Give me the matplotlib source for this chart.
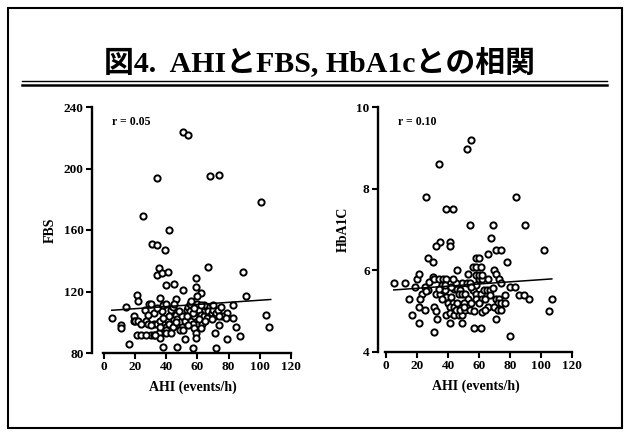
import matplotlib
matplotlib.use("Agg")
import matplotlib.pyplot as plt
from matplotlib.lines import Line2D
from matplotlib.patches import Rectangle

plt.rcParams['font.family'] = ['Liberation Serif', 'Noto Sans CJK JP']
plt.rcParams['font.weight'] = 'bold'

# AHI vs FBS
fbs_ahi = [51, 54, 34, 68, 74, 101, 25, 42, 31, 34, 39, 35, 34, 37, 41, 67, 89, 59, 40, 45,
           59, 51, 21, 22, 91, 36, 46, 62, 104, 106, 83, 5, 14, 11, 11, 16, 38, 47, 57, 72,
           79, 52, 87, 85, 74, 71, 83, 79,
           19, 19, 20, 22, 21, 24, 27, 28, 26, 29, 30, 32, 32, 30, 32, 34, 35, 36, 36, 37,
           38, 39, 40, 40, 41, 42, 40, 40, 43, 44, 45, 46, 47, 48, 49, 50, 49, 51, 50, 52,
           53, 54, 55, 56, 57, 58, 59, 59, 58, 60, 60, 61, 62, 63, 63, 64, 65, 66, 67, 68,
           69, 70, 71, 72, 73, 75, 76, 78, 60, 34, 27, 33, 44, 46, 53, 55, 57, 61, 62, 64,
           66, 69, 42, 38, 56, 48, 28, 24, 30, 36, 43, 54, 65, 70, 74, 58, 62]
fbs_val = [224, 222, 194, 195, 196, 178, 169, 160, 151, 150, 147, 135, 131, 132, 133, 136, 133, 129, 124, 125,
           123, 121, 118, 114, 117, 116, 115, 119, 105, 97, 111, 103, 110, 98, 96, 86, 84, 84, 83, 83,
           89, 89, 91, 97, 98, 93, 103, 106,
           104, 101, 101, 101, 92, 92, 101, 99, 108, 112, 112, 106, 99, 92, 92, 99, 93, 90, 101, 107,
           111, 99, 97, 95, 101, 99, 93, 112, 108, 110, 112, 105, 102, 99, 100, 97, 95, 95, 104, 101,
           108, 110, 107, 101, 99, 96, 93, 90, 104, 110, 112, 108, 105, 101, 99, 104, 108, 110, 107, 104,
           106, 108, 104, 106, 108, 110, 104, 103, 117, 109, 92, 92, 97, 100, 104, 112, 106, 102, 96, 111,
           103, 102, 104, 103, 114, 107, 105, 99, 98, 97, 93, 98, 101, 111, 104, 109, 111]
fbs_fit_x = [5, 107]
fbs_fit_y = [107.8, 114.8]

# AHI vs HbA1c
hba_ahi = [55, 52, 34, 26, 84, 39, 43, 54, 69, 90, 68, 102, 71, 74, 41, 41, 35, 32, 27, 30,
           66, 58, 60, 78, 46, 5, 12, 15, 17, 21, 31, 41, 49, 57, 61, 80, 71, 105, 107, 92,
           86, 89, 80, 83,
           20, 21, 19, 23, 22, 21, 25, 25, 27, 28, 30, 31, 34, 37, 39, 31, 32, 33, 32, 35,
           37, 38, 36, 38, 39, 42, 40, 43, 41, 44, 39, 41, 44, 47, 49, 45, 48, 51, 54, 46,
           44, 46, 48, 47, 49, 51, 49, 52, 54, 56, 58, 60, 62, 58, 60, 62, 56, 58, 61, 58,
           61, 58, 62, 64, 63, 65, 67, 66, 70, 71, 73, 74, 69, 66, 62, 64, 71, 73, 72, 74,
           70, 72, 74, 77, 77, 53, 55, 50, 36, 42, 45, 53, 55, 60, 67, 50, 57, 34, 26, 43]
hba_val = [9.18, 8.98, 8.6, 7.8, 7.8, 7.5, 7.5, 7.1, 7.1, 7.1, 6.8, 6.5, 6.5, 6.5, 6.7, 6.6, 6.7, 6.6, 6.3, 6.2,
           6.4, 6.3, 6.3, 6.2, 6.0, 5.7, 5.7, 5.3, 4.9, 4.7, 4.5, 4.7, 4.7, 4.6, 4.6, 4.4, 4.8, 5.0, 5.3, 5.3,
           5.4, 5.4, 5.6, 5.6,
           5.8, 5.9, 5.6, 5.43, 5.3, 5.1, 5.03, 5.6, 5.52, 5.72, 5.83, 5.8, 5.8, 5.8, 5.8, 5.1, 5.0, 4.8, 5.42, 5.42,
           5.53, 5.53, 5.65, 5.65, 5.35, 5.35, 5.19, 5.19, 5.11, 5.11, 4.9, 4.95, 4.9, 4.9, 4.9, 5.04, 5.04, 5.04, 5.04, 5.19,
           5.55, 5.55, 5.53, 5.43, 5.43, 5.43, 5.7, 5.7, 5.7, 5.52, 5.64, 5.8, 5.8, 5.88, 5.88, 5.88, 6.09, 6.09, 6.09, 5.43,
           5.43, 5.31, 5.31, 5.31, 5.52, 5.52, 5.52, 5.8, 6.0, 5.9, 5.78, 5.68, 5.56, 5.11, 4.99, 5.03, 5.31, 5.31, 5.19, 5.19,
           5.11, 5.03, 5.03, 5.19, 5.4, 5.3, 5.2, 5.2, 5.3, 5.6, 5.7, 5.9, 5.6, 5.2, 5.4, 5.1, 5.0, 5.55, 5.5, 5.8]
hba_fit_x = [5, 107]
hba_fit_y = [5.52, 5.79]

W, H = 631, 432
fig = plt.figure(figsize=(W / 100, H / 100), dpi=100)


def px(x0, y0, x1, y1):
    # pixel box -> figure fraction [left, bottom, width, height]
    return [x0 / W, 1 - y1 / H, (x1 - x0) / W, (y1 - y0) / H]


def style(ax, xlim, ylim, yticks, ylabel, rtext):
    ax.set_xlim(*xlim)
    ax.set_ylim(*ylim)
    for s in ['top', 'right']:
        ax.spines[s].set_visible(False)
    ax.spines['left'].set_bounds(ylim[0], ylim[1])
    ax.spines['bottom'].set_bounds(-0.5, 120)
    ax.spines['left'].set_linewidth(1.7)
    ax.spines['bottom'].set_linewidth(1.7)
    ax.set_xticks([0, 20, 40, 60, 80, 100, 120])
    ax.set_yticks(yticks)
    ax.tick_params(axis='both', direction='out', length=4, width=1.5, labelsize=9.5, pad=2)
    for lab in ax.get_xticklabels() + ax.get_yticklabels():
        lab.set_fontweight('bold')
    ax.set_xlabel('AHI (events/h)', fontsize=10, fontweight='bold', labelpad=5)
    ax.set_ylabel(ylabel, fontsize=10, fontweight='bold', labelpad=5)
    ax.text(0.1, 0.925, rtext, transform=ax.transAxes, fontsize=8.5, fontweight='bold')


ax1 = fig.add_axes(px(92, 107, 293, 353))
ax1.plot(fbs_ahi, fbs_val, 'o', mfc='white', mec='black', ms=4.5, mew=1.4, clip_on=False)
ax1.plot(fbs_fit_x, fbs_fit_y, color='black', lw=1.1)
style(ax1, (-7.7, 121.3), (80, 240), [80, 120, 160, 200, 240], 'FBS', 'r = 0.05')

ax2 = fig.add_axes(px(378, 107, 573.5, 352))
ax2.plot(hba_ahi, hba_val, 'o', mfc='white', mec='black', ms=4.5, mew=1.4, clip_on=False)
ax2.plot(hba_fit_x, hba_fit_y, color='black', lw=1.1)
style(ax2, (-5.2, 121), (4, 10), [4, 6, 8, 10], 'HbA1C', 'r = 0.10')

fig.text(320 / W, 1 - 62 / H, '図4.  AHIとFBS, HbA1cとの相関', ha='center', va='center',
         fontsize=21.5, fontweight='bold')

# double rule under the title
fig.add_artist(Line2D([22 / W, 607 / W], [1 - 81 / H] * 2, color='black', lw=1.0))
fig.add_artist(Line2D([22 / W, 607 / W], [1 - 85 / H] * 2, color='black', lw=1.8))

# outer frame
fig.add_artist(Rectangle((8 / W, 1 - 428 / H), 614 / W, 420 / H, fill=False,
                         edgecolor='black', lw=1.5, transform=fig.transFigure))

fig.savefig('out.png', dpi=100)
